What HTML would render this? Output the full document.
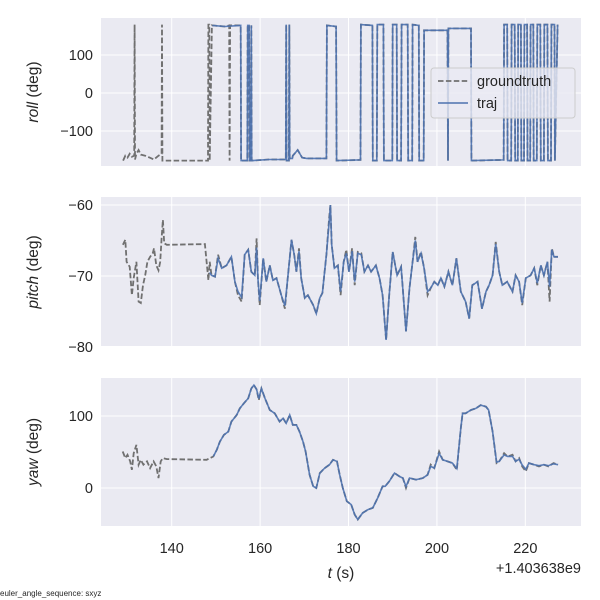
<!DOCTYPE html>
<html><head><meta charset="utf-8"><style>
body{margin:0;background:#fff}
svg{display:block;font-family:"Liberation Sans","DejaVu Sans",sans-serif}
</style></head><body>
<svg id="chart" width="600" height="600" viewBox="0 0 600 600" xmlns="http://www.w3.org/2000/svg"></svg>
<script>
const xTicks=[140,160,180,200,220];
const rollTicks=[100,0,-100];
const pitchTicks=[-60,-70,-80];
const yawTicks=[100,0];
const rollGtT=[129.0,129.5,130,130.5,131,131.5,131.6,131.7,132,132.5,133,134,135,136,137,137.7,137.8,137.9,148.2,148.3,148.5,148.6,149.1,152,153.0,153.1,153.2,155.6,155.7,157.1,157.2,157.5,157.6,157.9,158.0,158.1,162,165.8,165.9,166.0,166.5,166.6,166.7,167.3,167.4,168.5,169.5,170.5,175.0,175.1,177.2,177.3,182.7,182.8,185.4,185.5,186.4,186.5,187.9,188.0,189.9,190.0,190.9,191.0,191.9,192.0,193.4,193.5,194.4,194.5,195.9,196.0,197.0,197.1,202.4,202.5,202.6,207.7,207.8,215.1,215.2,215.9,216.0,216.8,216.9,217.6,217.7,218.3,218.4,219.0,219.1,219.7,219.8,220.4,220.5,221.1,221.2,221.8,221.9,222.6,222.7,223.4,223.5,224.2,224.3,225.0,225.1,225.8,225.9,226.6,226.7,227.3];
const rollGtV=[-178,-165,-170,-160,-168,-165,180,-175,-160,-150,-162,-165,-170,-175,-165,-160,180,-178,-178,180,180,-178,178,175,178,-178,178,178,-178,-178,178,178,-178,-178,178,-178,-175,-175,180,-178,-178,180,-172,-172,-165,-150,-170,-172,-172,178,175,-178,-176,180,178,-178,-178,180,180,-178,-178,180,180,-178,-178,180,180,-178,-178,180,178,-178,-178,165,165,-178,170,170,-178,-176,180,180,-178,-178,180,180,-178,-178,180,180,-178,-178,180,180,-178,-178,180,180,-178,-178,180,180,-178,-178,180,180,-178,-178,180,180,-178,180];
const rollTrajT=[149.2,152,155.6,155.7,157.1,157.2,157.5,157.6,157.9,158.0,158.1,162,165.8,165.9,166.0,166.5,166.6,166.7,167.3,167.4,168.5,169.5,170.5,175.0,175.1,177.2,177.3,182.7,182.8,185.4,185.5,186.4,186.5,187.9,188.0,189.9,190.0,190.9,191.0,191.9,192.0,193.4,193.5,194.4,194.5,195.9,196.0,197.0,197.1,202.4,202.5,202.6,207.7,207.8,215.1,215.2,215.9,216.0,216.8,216.9,217.6,217.7,218.3,218.4,219.0,219.1,219.7,219.8,220.4,220.5,221.1,221.2,221.8,221.9,222.6,222.7,223.4,223.5,224.2,224.3,225.0,225.1,225.8,225.9,226.6,226.7,227.3];
const rollTrajV=[178,175,178,-178,-178,178,178,-178,-178,178,-178,-175,-175,180,-178,-178,180,-172,-172,-165,-150,-170,-172,-172,178,175,-178,-176,180,178,-178,-178,180,180,-178,-178,180,180,-178,-178,180,180,-178,-178,180,178,-178,-178,165,165,-178,170,170,-178,-176,180,180,-178,-178,180,180,-178,-178,180,180,-178,-178,180,180,-178,-178,180,180,-178,-178,180,180,-178,-178,180,180,-178,-178,180,180,-178,180];
const pitchGtT=[128.95,129.5,129.8,130.5,131.0,131.4,132.0,132.5,133.0,133.5,134.0,134.5,135.1,135.7,136.0,136.5,137.0,137.4,137.7,138.0,138.3,138.9,147.5,147.9,148.3,148.6,149.0,149.8,150.5,151.3,152.4,153.5,154.3,155.0,155.8,156.5,157.3,158.0,158.8,159.2,159.5,159.9,160.7,161.4,162.2,162.9,163.7,164.8,165.6,166.3,167.1,167.7,168.2,168.8,169.3,170.1,170.8,172.0,172.7,173.5,174.1,175.0,175.6,175.9,176.2,176.8,177.6,178.2,178.9,179.5,180.1,180.8,181.4,182.1,182.9,183.6,184.4,185.1,186.2,187.0,187.7,188.5,189.2,190.0,191.0,191.9,192.4,193.0,193.8,194.5,195.1,195.6,196.4,197.1,197.9,198.6,199.4,200.2,200.9,201.7,202.6,203.5,204.4,205.4,206.5,207.3,208.0,209.2,210.2,211.1,211.8,212.6,213.3,214.1,214.8,215.9,217.1,217.8,218.6,219.3,220.1,221.2,222.0,222.7,223.5,224.2,225.0,225.5,226.0,226.5,227.4];
const pitchGtV=[-65.6,-64.9,-68.0,-68.7,-72.7,-70.3,-68.0,-73.6,-73.8,-71.3,-69.9,-68.0,-67.3,-66.8,-66.1,-68.5,-69.2,-68.0,-64.7,-62.1,-65.4,-65.6,-65.5,-68.0,-70.6,-68.0,-69.9,-70.1,-67.0,-68.9,-68.5,-67.3,-70.8,-72.7,-73.6,-67.0,-66.3,-69.4,-69.9,-64.7,-70.3,-74.1,-67.5,-70.8,-68.5,-70.6,-70.3,-72.7,-74.6,-69.9,-64.9,-67.0,-69.4,-66.1,-70.3,-73.1,-72.7,-74.1,-75.3,-73.1,-72.4,-67.0,-61.9,-60.0,-65.6,-68.9,-68.5,-72.7,-68.0,-66.3,-69.4,-66.1,-71.3,-66.6,-66.8,-69.4,-68.5,-69.4,-68.5,-70.3,-72.7,-79.0,-72.7,-66.6,-69.9,-68.7,-72.7,-77.8,-71.7,-68.0,-64.5,-68.0,-66.6,-68.9,-72.7,-71.7,-70.8,-71.3,-70.3,-71.5,-69.4,-71.3,-67.5,-72.2,-73.6,-76.0,-71.3,-70.8,-74.6,-72.2,-71.3,-69.9,-65.2,-69.4,-71.3,-70.8,-72.2,-69.9,-70.8,-74.1,-70.3,-69.9,-68.9,-71.3,-68.5,-69.9,-68.0,-73.6,-66.1,-67.3,-67.3];
const pitchTrajT=[148.6,149.0,149.8,150.5,151.3,152.4,153.5,154.3,155.0,155.8,156.5,157.3,158.0,158.8,159.2,159.5,159.9,160.7,161.4,162.2,162.9,163.7,164.8,165.6,166.3,167.1,167.7,168.2,168.8,169.3,170.1,170.8,172.0,172.7,173.5,174.1,175.0,175.6,175.9,176.2,176.8,177.6,178.2,178.9,179.5,180.1,180.8,181.4,182.1,182.9,183.6,184.4,185.1,186.2,187.0,187.7,188.5,189.2,190.0,191.0,191.9,192.4,193.0,193.8,194.5,195.1,195.6,196.4,197.1,197.9,198.6,199.4,200.2,200.9,201.7,202.6,203.5,204.4,205.4,206.5,207.3,208.0,209.2,210.2,211.1,211.8,212.6,213.3,214.1,214.8,215.9,217.1,217.8,218.6,219.3,220.1,221.2,222.0,222.7,223.5,224.2,225.0,225.5,226.0,226.5,227.4];
const pitchTrajV=[-69.5,-69.9,-70.1,-67.5,-68.9,-68.5,-67.3,-70.8,-72.2,-73.0,-67.0,-66.3,-69.4,-69.9,-66.0,-70.3,-73.5,-67.5,-70.8,-68.5,-70.6,-70.3,-72.7,-74.2,-69.9,-64.9,-67.0,-69.4,-66.5,-70.3,-73.1,-72.7,-74.1,-75.3,-73.1,-72.4,-67.0,-62.5,-60.0,-65.6,-68.9,-68.5,-72.2,-68.0,-66.8,-69.4,-66.5,-70.8,-66.8,-67.0,-69.4,-68.5,-69.4,-68.5,-70.3,-72.7,-79.0,-72.7,-66.6,-69.9,-68.7,-72.7,-77.8,-71.7,-68.0,-65.0,-68.0,-66.8,-68.9,-72.2,-71.7,-70.8,-71.3,-70.3,-71.5,-69.4,-71.3,-67.5,-72.2,-73.6,-76.0,-71.3,-70.8,-74.6,-72.2,-71.3,-69.9,-65.5,-69.4,-71.3,-70.8,-72.2,-69.9,-70.8,-73.8,-70.3,-69.9,-68.9,-71.0,-68.5,-69.9,-68.0,-71.5,-66.3,-67.3,-67.3];
const yawGtT=[128.9,129.5,130.0,130.6,131.0,131.4,132.0,132.5,133.0,133.6,134.4,135.1,135.9,136.5,137.0,137.5,138.0,138.9,147.9,149.4,150.2,150.9,151.8,152.8,153.5,154.7,155.4,156.3,157.3,158.0,158.6,159.2,159.7,160.3,161.1,162.2,163.3,164.4,165.2,165.9,166.7,167.4,168.2,168.9,169.7,170.3,171.2,172.0,172.7,173.5,174.6,175.7,176.5,177.4,178.0,178.7,179.6,180.6,181.4,182.1,183.2,184.4,185.5,186.6,187.7,188.3,189.2,190.4,191.5,192.3,193.0,193.8,195.3,196.8,197.9,198.6,199.4,200.5,201.3,202.4,203.5,204.5,205.4,205.8,206.5,207.7,208.8,209.9,211.1,211.7,212.6,213.5,214.1,215.2,216.0,217.1,217.8,218.6,219.3,220.1,220.8,222.0,223.1,224.2,225.2,226.4,227.4];
const yawGtV=[50.7,41.5,46.1,36.9,25.3,48.4,59.9,32.3,39.2,32.3,36.9,27.6,36.9,30.0,13.8,36.9,41.5,40.1,39.2,43.8,53.0,64.5,73.7,78.3,92.2,101.4,110.6,117.5,124.4,138.2,142.9,136.9,122.1,138.2,124.4,108.3,103.7,92.2,96.8,89.9,101.4,87.6,87.6,78.3,64.5,50.7,18.4,2.3,0,20.7,27.6,32.3,39.2,36.9,18.4,0,-18.4,-23.0,-36.9,-43.8,-34.6,-30.0,-27.6,-13.8,2.3,2.3,9.2,20.7,16.1,13.8,0,13.8,11.5,13.8,18.4,32.3,27.6,50.7,39.2,36.9,34.6,25.3,82.9,103.7,103.7,108.3,110.6,115.2,112.9,108.3,78.3,34.6,36.9,48.4,43.8,46.1,36.9,41.5,30.0,23.0,34.6,32.3,30.0,32.3,30.0,34.6,32.3];
const yawTrajT=[149.4,150.2,150.9,151.8,152.8,153.5,154.7,155.4,156.3,157.3,158.0,158.6,159.2,159.7,160.3,161.1,162.2,163.3,164.4,165.2,165.9,166.7,167.4,168.2,168.9,169.7,170.3,171.2,172.0,172.7,173.5,174.6,175.7,176.5,177.4,178.0,178.7,179.6,180.6,181.4,182.1,183.2,184.4,185.5,186.6,187.7,188.3,189.2,190.4,191.5,192.3,193.0,193.8,195.3,196.8,197.9,198.6,199.4,200.5,201.3,202.4,203.5,204.5,205.4,205.8,206.5,207.7,208.8,209.9,211.1,211.7,212.6,213.5,214.1,215.2,216.0,217.1,217.8,218.6,219.3,220.1,220.8,222.0,223.1,224.2,225.2,226.4,227.4];
const yawTrajV=[43.8,53.0,64.5,73.7,78.3,92.2,101.4,110.6,117.5,124.4,138.2,142.9,136.9,124.0,138.2,124.4,108.3,103.7,92.2,96.8,89.9,101.4,87.6,87.6,78.3,64.5,50.7,18.4,2.3,0,20.7,27.6,32.3,39.2,36.9,18.4,0,-18.4,-23.0,-36.9,-43.8,-34.6,-30.0,-27.6,-13.8,2.3,2.3,9.2,20.7,16.1,13.8,2.0,13.8,11.5,13.8,18.4,30.0,27.6,48.0,39.2,36.9,34.6,27.0,82.9,103.7,103.7,108.3,110.6,115.2,112.9,108.3,78.3,36.0,36.9,46.0,43.8,44.0,36.9,40.0,32.0,26.0,34.6,32.3,31.0,32.3,31.0,33.6,32.3];

const NS='http://www.w3.org/2000/svg';
const svg=document.getElementById('chart');
function el(tag,attrs,parent){const e=document.createElementNS(NS,tag);for(const k in attrs)e.setAttribute(k,attrs[k]);(parent||svg).appendChild(e);return e;}
const X0=101,X1=581;
function xScale(t){return X0+(t-124)*4.42;}
const panels=[
 {name:'roll',top:18,bot:166,y:v=>93-v*0.38,ticks:rollTicks,gtT:rollGtT,gtV:rollGtV,trT:rollTrajT,trV:rollTrajV,label:'roll',lx:38,ly:92},
 {name:'pitch',top:197,bot:346,y:v=>205+(-60-v)*7.1,ticks:pitchTicks,gtT:pitchGtT,gtV:pitchGtV,trT:pitchTrajT,trV:pitchTrajV,label:'pitch',lx:38,ly:272},
 {name:'yaw',top:378,bot:526,y:v=>488-v*0.72,ticks:yawTicks,gtT:yawGtT,gtV:yawGtV,trT:yawTrajT,trV:yawTrajV,label:'yaw',lx:38,ly:452}
];
panels.forEach(p=>{
  const g=el('g',{});
  
  
  const bg=el('rect',{x:X0,y:p.top,width:X1-X0,height:p.bot-p.top,fill:'#eaeaf2'},g);
  
  
  xTicks.forEach(t=>{
    const l=el('line',{x1:xScale(t),x2:xScale(t),y1:p.top,y2:p.bot,stroke:'#fff','stroke-width':1},g);
    
    
  });
  p.ticks.forEach(v=>{
    const yy=p.y(v);
    const l=el('line',{x1:X0,x2:X1,y1:yy,y2:yy,stroke:'#fff','stroke-width':1},g);
    
    
    const tx=el('text',{x:X0-8,y:yy+5,'text-anchor':'end','font-size':'14.5',fill:'#262626'},g);
    tx.textContent=String(v).replace('-','\u2212');
    
    
  });
  const cp=el('clipPath',{id:'c'+p.name},g);
  el('rect',{x:X0,y:p.top,width:X1-X0,height:p.bot-p.top},cp);
  const gt=el('polyline',{points:p.gtT.map((t,i)=>xScale(t).toFixed(1)+','+p.y(p.gtV[i]).toFixed(1)).join(' '),fill:'none',stroke:'#707070','stroke-width':1.8,'stroke-dasharray':'5.5,2.4','clip-path':'url(#c'+p.name+')'},g);
  
  
  const tr=el('polyline',{points:p.trT.map((t,i)=>xScale(t).toFixed(1)+','+p.y(p.trV[i]).toFixed(1)).join(' '),fill:'none',stroke:'#4c72b0','stroke-width':1.6,'stroke-opacity':0.9,'clip-path':'url(#c'+p.name+')'},g);
  
  
  const lab=el('text',{transform:'translate('+p.lx+','+p.ly+') rotate(-90)','text-anchor':'middle','font-size':'15.5',fill:'#262626'},g);
  lab.innerHTML='<tspan font-style="italic">'+p.label+'</tspan> (deg)';
  
  
});
xTicks.forEach(t=>{
  const tx=el('text',{x:xScale(t),y:553,'text-anchor':'middle','font-size':'14.5',fill:'#262626'});
  tx.textContent=t;
  
  
});
</script>
<svg style="position:absolute;left:0;top:0" width="600" height="600">
<text x="341" y="578" text-anchor="middle" font-size="15.5" fill="#262626" font-family="Liberation Sans, sans-serif"><tspan font-style="italic">t</tspan> (s)</text>
<text x="581" y="573" text-anchor="end" font-size="14.5" fill="#262626" font-family="Liberation Sans, sans-serif">+1.403638e9</text>
<text x="0" y="596" font-size="8" fill="#262626" font-family="Liberation Sans, sans-serif">euler_angle_sequence: sxyz</text>
<g>
<rect x="431" y="68" width="144" height="50" rx="3" fill="#eaeaf2" fill-opacity="0.8" stroke="#cccccc" stroke-width="1"/>
<line x1="438" x2="468" y1="81" y2="81" stroke="#707070" stroke-width="1.8" stroke-dasharray="5.5,2.4"/>
<text x="477" y="86" font-size="14.5" fill="#262626" font-family="Liberation Sans, sans-serif">groundtruth</text>
<line x1="438" x2="468" y1="103" y2="103" stroke="#4c72b0" stroke-width="1.6"/>
<text x="477" y="108" font-size="14.5" fill="#262626" font-family="Liberation Sans, sans-serif">traj</text>
</g>
</svg>
</body></html>
